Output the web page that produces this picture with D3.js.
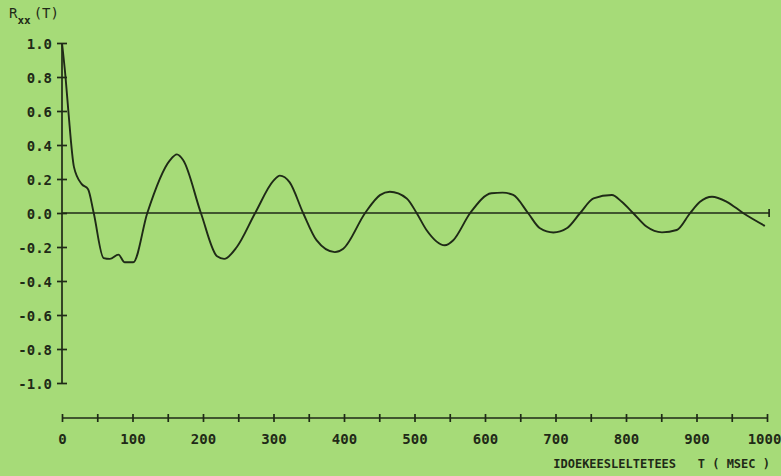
<!DOCTYPE html>
<html>
<head>
<meta charset="utf-8">
<script src="https://cdn.jsdelivr.net/npm/d3@7"></script>
<style>
  html, body { margin: 0; padding: 0; background: #a6db78; }
  svg { display: block; }
  text { font-family: 'DejaVu Sans Mono', monospace; font-weight: bold; fill: #1f2a17; }
</style>
</head>
<body>
<div id="chart"></div>
<script>
// lag (ms) and autocorrelation values
const lagMs = [0, 5, 9, 17, 28, 37, 45, 59, 68, 80, 89, 101, 121, 153, 163, 172, 197, 220, 230, 248,
  274, 300, 309, 323, 342, 361, 387, 399, 430, 451, 465, 489, 503, 517, 543, 555, 579, 609, 625, 640,
  661, 678, 697, 716, 735, 754, 780, 794, 810, 829, 851, 872, 891, 905, 922, 943, 966, 997];
const rxx = [1.0, 0.8, 0.6, 0.27, 0.17, 0.14, 0.0, -0.265, -0.27, -0.245, -0.29, -0.29, 0.0, 0.31, 0.345, 0.31, 0.0, -0.255, -0.27, -0.2,
  0.0, 0.19, 0.22, 0.18, 0.0, -0.16, -0.23, -0.21, 0.0, 0.105, 0.125, 0.086, 0.0, -0.1, -0.19, -0.16, 0.0, 0.116, 0.12, 0.106,
  0.0, -0.09, -0.115, -0.09, 0.0, 0.086, 0.106, 0.066, 0.0, -0.08, -0.114, -0.1, 0.0, 0.066, 0.096, 0.066, 0.0, -0.076];

const yTicks = [1.0, 0.8, 0.6, 0.4, 0.2, 0.0, -0.2, -0.4, -0.6, -0.8, -1.0];
const xTicks = d3.range(0, 1001, 50);
const xLabels = [0, 100, 200, 300, 400, 500, 600, 700, 800, 900, 1000];

const width = 781, height = 476;
const ink = '#1f2a17';

const svg = d3.select('#chart').append('svg').attr('width', width).attr('height', height);

svg.append('rect').attr('width', width).attr('height', height).attr('fill', '#a6db78');

const x = d3.scaleLinear().domain([0, 1000]).range([62, 767]);
const y = d3.scaleLinear().domain([-1, 1]).range([383, 43]);

// y axis, ticks crossing the line
const yAxis = svg.append('g')
  .attr('transform', `translate(${x(0)},0)`)
  .call(d3.axisLeft(y).tickValues(yTicks).tickSize(5).tickPadding(5).tickFormat(d => d.toFixed(1)));
yAxis.select('.domain').attr('d', `M0,${y(1)}V${y(-1)}`).attr('stroke', ink).attr('stroke-width', 1.7);
yAxis.selectAll('.tick line').attr('x1', -5).attr('x2', 5).attr('stroke', ink).attr('stroke-width', 1.7);
yAxis.selectAll('.tick text').attr('font-size', 14).attr('font-family', null).attr('fill', ink).attr('dy', '0.36em');

// separate time axis below
const xAxisY = 418;
const xAxis = svg.append('g')
  .attr('transform', `translate(0,${xAxisY})`)
  .call(d3.axisBottom(x).tickValues(xTicks).tickSize(4).tickPadding(12)
    .tickFormat(d => (xLabels.includes(d) ? d : '')));
xAxis.select('.domain').attr('d', `M${x(0)},0H${x(1000)}`).attr('stroke', ink).attr('stroke-width', 1.7);
xAxis.selectAll('.tick line').attr('y1', -4).attr('y2', 4).attr('stroke', ink).attr('stroke-width', 1.7);
xAxis.selectAll('.tick text').attr('font-size', 14).attr('font-family', null).attr('fill', ink)
  .attr('dx', d => (d === 1000 ? -3 : 0));

// zero reference line with end tick
svg.append('line')
  .attr('x1', x(0)).attr('x2', x(1003)).attr('y1', y(0)).attr('y2', y(0))
  .attr('stroke', ink).attr('stroke-width', 1.7);
svg.append('line')
  .attr('x1', x(1003)).attr('x2', x(1003)).attr('y1', y(0) - 4).attr('y2', y(0) + 4)
  .attr('stroke', ink).attr('stroke-width', 1.7);

// correlation curve
const points = lagMs.map((t, i) => [t, rxx[i]]);
const line = d3.line()
  .x(d => x(d[0]))
  .y(d => y(d[1]))
  .curve(d3.curveMonotoneX);
svg.append('path')
  .datum(points)
  .attr('d', line)
  .attr('fill', 'none')
  .attr('stroke', ink)
  .attr('stroke-width', 1.9)
  .attr('stroke-linejoin', 'round');

// labels
const title = svg.append('text').attr('x', 9).attr('y', 18).attr('font-size', 14).style('font-weight', 'normal');
title.append('tspan').text('R');
title.append('tspan').attr('font-size', 11).attr('dy', 6).style('font-weight', 'bold').text('xx');
title.append('tspan').attr('dy', -6).attr('dx', 3).text('(T)');

svg.append('text')
  .attr('x', 770).attr('y', 468)
  .attr('text-anchor', 'end')
  .attr('font-size', 12)
  .attr('xml:space', 'preserve')
  .style('white-space', 'pre')
  .text('IDOEKEESLELTETEES   T ( MSEC )');
</script>
</body>
</html>
